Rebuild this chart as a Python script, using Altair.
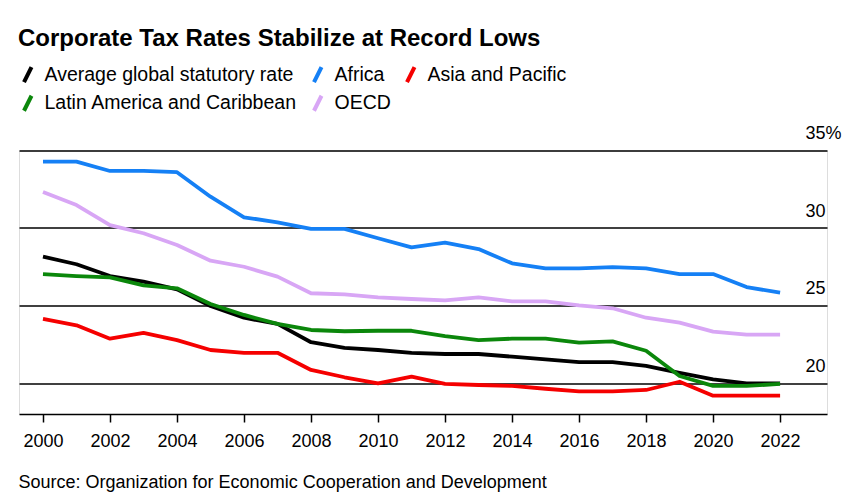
import altair as alt
import pandas as pd

years = list(range(2000, 2023))

series_names = [
    "Average global statutory rate",
    "Africa",
    "Asia and Pacific",
    "Latin America and Caribbean",
    "OECD",
]
series_colors = ["#000000", "#1580f5", "#f50000", "#0b870b", "#d8a6f5"]

average_global = [28.15, 27.66, 26.90, 26.54, 26.04, 24.97, 24.21, 23.81, 22.63, 22.26,
                  22.13, 21.95, 21.87, 21.87, 21.70, 21.53, 21.35, 21.35, 21.10, 20.66,
                  20.24, 19.98, 19.98]
africa = [34.28, 34.28, 33.68, 33.68, 33.60, 32.02, 30.69, 30.37, 29.94, 29.94,
          29.34, 28.75, 29.05, 28.64, 27.72, 27.40, 27.40, 27.48, 27.40, 27.03,
          27.03, 26.19, 25.83]
asia_pacific = [24.13, 23.72, 22.86, 23.23, 22.77, 22.13, 21.95, 21.95, 20.84, 20.37,
                19.98, 20.41, 19.94, 19.87, 19.81, 19.63, 19.46, 19.46, 19.55, 20.08,
                19.18, 19.18, 19.18]
latin_america = [27.03, 26.90, 26.81, 26.30, 26.11, 25.10, 24.39, 23.81, 23.42, 23.34,
                 23.37, 23.37, 23.03, 22.77, 22.86, 22.86, 22.60, 22.69, 22.08, 20.45,
                 19.81, 19.81, 19.94]
oecd = [32.32, 31.48, 30.19, 29.66, 28.90, 27.89, 27.50, 26.86, 25.79, 25.72,
        25.53, 25.42, 25.33, 25.53, 25.27, 25.27, 25.01, 24.82, 24.21, 23.89,
        23.31, 23.12, 23.12]

x_tick_values = list(range(2000, 2023, 2))
y_tick_values = [20, 25, 30, 35]

title_text = "Corporate Tax Rates Stabilize at Record Lows"
source_text = "Source: Organization for Economic Cooperation and Development"

# draw order: black first, then others (green over black)
draw_order = ["Average global statutory rate", "Africa", "Asia and Pacific", "OECD",
              "Latin America and Caribbean"]
values_by_name = {
    "Average global statutory rate": average_global,
    "Africa": africa,
    "Asia and Pacific": asia_pacific,
    "Latin America and Caribbean": latin_america,
    "OECD": oecd,
}
rows = []
for name in draw_order:
    for yr, v in zip(years, values_by_name[name]):
        rows.append({"year": yr, "rate": v, "series": name})
df = pd.DataFrame(rows)

FONT = "Liberation Sans"

chart = (
    alt.Chart(df)
    .mark_line(strokeWidth=3.8, strokeJoin="round")
    .encode(
        x=alt.X(
            "year:Q",
            scale=alt.Scale(domain=[1999.284, 2023.40], nice=False, zero=False),
            axis=alt.Axis(
                values=x_tick_values,
                format="d",
                grid=False,
                domainColor="#000000",
                domainWidth=1.5,
                tickColor="#000000",
                tickWidth=1.5,
                tickSize=8,
                labelFontSize=18,
                labelFont=FONT,
                labelColor="#000000",
                labelPadding=10,
                labelFlush=False,
                title=source_text,
                titleFont=FONT,
                titleFontSize=18,
                titleFontWeight="normal",
                titleColor="#000000",
                titleAlign="left",
                titleAnchor="start",
                titleBaseline="alphabetic",
                titleX=-1,
                titleY=73,
            ),
        ),
        y=alt.Y(
            "rate:Q",
            scale=alt.Scale(domain=[18, 35], nice=False, zero=False),
            axis=alt.Axis(
                orient="right",
                values=y_tick_values,
                grid=True,
                gridColor="#000000",
                gridWidth=1.3,
                gridOpacity=1,
                domain=False,
                ticks=False,
                tickSize=0,
                labelPadding=-22,
                labelAlign="left",
                labelBaseline="alphabetic",
                labelOffset=-12,
                labelFontSize=18,
                labelFont=FONT,
                labelColor="#000000",
                labelExpr="datum.value == 35 ? '35%' : datum.label",
                title=None,
            ),
        ),
        color=alt.Color(
            "series:N",
            scale=alt.Scale(domain=series_names, range=series_colors),
            legend=alt.Legend(
                title=None,
                orient="none",
                legendX=-1,
                legendY=-86,
                direction="horizontal",
                columns=3,
                columnPadding=8,
                rowPadding=-3,
                symbolType="M-0.75,1.5L0.75,-1.5",
                symbolSize=100,
                symbolStrokeWidth=4,
                labelFont=FONT,
                labelFontSize=19.5,
                labelColor="#000000",
                labelOffset=7,
                labelLimit=400,
                padding=0,
            ),
        ),
    )
    .properties(
        width=808,
        height=263.5,
        padding={"left": 11, "top": 142.5, "right": 24, "bottom": 80},
        autosize=alt.AutoSizeParams(type="none"),
        title=alt.TitleParams(
            text=title_text,
            anchor="start",
            frame="group",
            font=FONT,
            fontSize=24,
            fontWeight="bold",
            color="#000000",
            offset=14,
            dx=-1,
        ),
    )
    .configure_view(stroke=None)
    .configure(background="#ffffff")
)

chart.save("out.html", embed_options={"renderer": "svg", "actions": False})
